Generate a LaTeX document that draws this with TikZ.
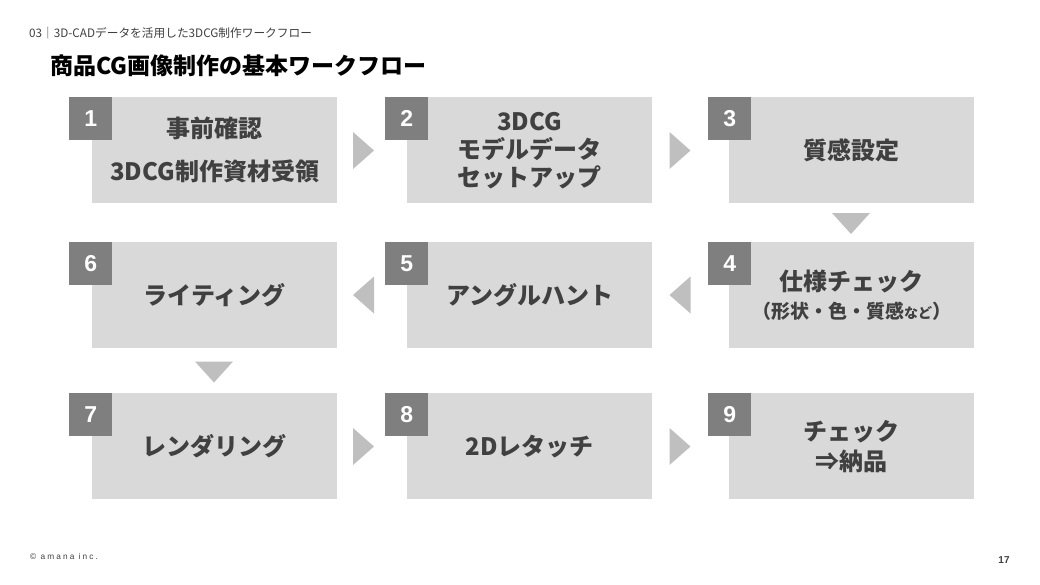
\documentclass[tikz,border=0pt]{standalone}
\usepackage{fontspec}
\setmainfont{Noto Sans CJK JP}
\newfontfamily\numfont{Liberation Sans}
\newfontfamily\footfont[LetterSpace=25]{Liberation Sans}
\definecolor{boxgray}{HTML}{D9D9D9}
\definecolor{numgray}{HTML}{7F7F7F}
\definecolor{arrgray}{HTML}{BFBFBF}
\definecolor{txt}{HTML}{404040}
\newcommand\triR[2]{\fill[arrgray] (#1-10.5,#2-18.5) -- (#1+10.5,#2) -- (#1-10.5,#2+18.5) -- cycle;}
\newcommand\triL[2]{\fill[arrgray] (#1+10.5,#2-18.5) -- (#1-10.5,#2) -- (#1+10.5,#2+18.5) -- cycle;}
\newcommand\triD[2]{\fill[arrgray] (#1-19,#2-10.5) -- (#1+19,#2-10.5) -- (#1,#2+10.5) -- cycle;}
\tikzset{
  stepbox/.style={fill=boxgray, minimum width=245pt, minimum height=106pt, inner sep=0pt,
    anchor=north west, text=txt, align=center,
    font=\fontsize{24}{28}\selectfont\bfseries},
  numbox/.style={fill=numgray, minimum width=43pt, minimum height=43pt, inner sep=0pt,
    anchor=north west, text=white, font=\numfont\bfseries\fontsize{23}{23}\selectfont},
}
\begin{document}
\begin{tikzpicture}[x=1pt,y=-1pt]
\useasboundingbox[fill=white] (0,0) rectangle (1040,584);
% header
\node[anchor=west, text=txt, inner sep=0pt, font=\fontsize{11.7}{13}\selectfont] (hdr) at (29,33) {03｜3D-CADデータを活用した3DCG制作ワークフロー};
\node[anchor=west, text=black, inner sep=0pt, font=\fontsize{23}{26}\selectfont\bfseries] (title) at (50,66) {商品CG画像制作の基本ワークフロー};
% boxes
\node[stepbox] (b1) at (92,97) {事前確認\\[15pt]3DCG制作資材受領};
\node[stepbox] (b2) at (407,97) {3DCG\\モデルデータ\\セットアップ};
\node[stepbox] (b3) at (729,97) {質感設定};
\node[stepbox] (b4) at (729,242) {仕様チェック\\{\fontsize{19}{21}\selectfont （形状・色・質感{\fontsize{14}{15}\selectfont など}）}};
\node[stepbox] (b5) at (407,242) {アングルハント};
\node[stepbox] (b6) at (92,242) {ライティング};
\node[stepbox] (b7) at (92,393) {レンダリング};
\node[stepbox] (b8) at (407,393) {2Dレタッチ};
\node[stepbox] (b9) at (729,393) {チェック\\[2pt]⇒納品};
% number squares
\node[numbox] (n1) at (69,97) {1};
\node[numbox] (n2) at (385,97) {2};
\node[numbox] (n3) at (708,97) {3};
\node[numbox] (n4) at (708,242) {4};
\node[numbox] (n5) at (385,242) {5};
\node[numbox] (n6) at (69,242) {6};
\node[numbox] (n7) at (69,393) {7};
\node[numbox] (n8) at (385,393) {8};
\node[numbox] (n9) at (708,393) {9};
% arrows
\triR{363.5}{150.5}
\triR{680}{150.5}
\triD{851}{223.5}
\triL{680}{295}
\triL{363.5}{295}
\triD{214}{372}
\triR{363.5}{446.5}
\triR{680}{446.5}
% footer
\node[anchor=west, text=txt, inner sep=0pt, font=\footfont\fontsize{8.3}{10}\selectfont] (foot) at (30,557) {© amana inc.};
\node[text=txt, inner sep=0pt, font=\numfont\bfseries\fontsize{10}{12}\selectfont] (page) at (1004,560) {17};
\end{tikzpicture}
\end{document}
